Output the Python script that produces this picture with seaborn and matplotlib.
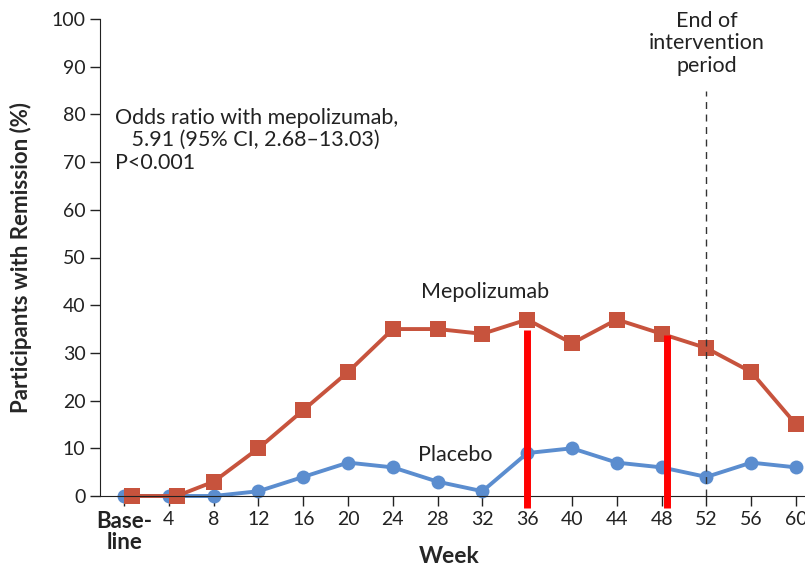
import numpy as np
import pandas as pd
import matplotlib.pyplot as plt
import seaborn as sns

# values
weeks = [0, 4, 8, 12, 16, 20, 24, 28, 32, 36, 40, 44, 48, 52, 56, 60]
tick_labels = ["Base-\nline", "4", "8", "12", "16", "20", "24", "28", "32",
               "36", "40", "44", "48", "52", "56", "60"]
mepolizumab = [0, 0, 3, 10, 18, 26, 35, 35, 34, 37, 32, 37, 34, 31, 26, 15]
placebo = [0, 0, 0, 1, 4, 7, 6, 3, 1, 9, 10, 7, 6, 4, 7, 6]
red_bar_weeks = [36, 48.5]
red_bar_tops = [34.7, 33.8]
end_week = 52

sns.set_style("ticks")
plt.rcParams['font.family'] = ['Lato', 'DejaVu Sans']

red = "#c7533d"
blue = "#5b8dcf"
ink = "#222222"

# small shift so overlapping zero points stay visible
shift = np.where(np.array(mepolizumab) == np.array(placebo), 0.7, 0.0)
df = pd.DataFrame({
    "week": list(weeks) + list(np.array(weeks) + shift),
    "value": placebo + mepolizumab,
    "group": ["Placebo"] * len(weeks) + ["Mepolizumab"] * len(weeks),
})

fig = plt.figure(figsize=(8.05, 5.7), dpi=100)
ax = fig.add_axes([100 / 805, 74 / 570, 705 / 805, 477 / 570])

sns.lineplot(data=df[df.group == "Placebo"], x="week", y="value", ax=ax,
             color=blue, linewidth=2.8, marker="o", markersize=10,
             markeredgewidth=0, clip_on=False)
sns.lineplot(data=df[df.group == "Mepolizumab"], x="week", y="value", ax=ax,
             color=red, linewidth=2.8, marker="s", markersize=11.5,
             markeredgewidth=0, clip_on=False)

# end of intervention
ax.vlines(end_week, 0, 85, color="#333333", linestyle=(0, (5, 4)), linewidth=1)
ax.text(end_week, 94.9, "End of\nintervention\nperiod", ha="center", va="center",
        fontsize=15.5, color=ink, linespacing=1.15)

# red highlight bars
ax.vlines(red_bar_weeks, -2.6, red_bar_tops, color="#ff0000", linewidth=5,
          clip_on=False, zorder=5)

ax.text(32.2, 42.8, "Mepolizumab", ha="center", va="center", fontsize=15.5,
        color=ink)
ax.text(29.6, 8.6, "Placebo", ha="center", va="center", fontsize=15.5,
        color=ink)
ax.text(-0.8, 74.6, "Odds ratio with mepolizumab,\n   5.91 (95% CI, 2.68\u201313.03)\nP<0.001",
        ha="left", va="center", fontsize=15.5, color=ink, linespacing=1.15)

ax.set_xlim(-2.15, 60.8)
ax.set_ylim(0, 100)
ax.set_xticks(weeks)
ax.set_xticklabels(tick_labels)
ax.tick_params(axis="both", labelsize=14, length=7, width=1, colors=ink)
base = ax.get_xticklabels()[0]
base.set_fontweight("bold")
base.set_fontsize(16)
base.set_linespacing(1.0)
ax.set_yticks(range(0, 101, 10))
ax.set_xlabel("Week", fontsize=16.5, fontweight="bold")
ax.xaxis.set_label_coords(0.495, -0.105)
ax.set_ylabel("Participants with Remission (%)", fontsize=16, fontweight="bold")
ax.yaxis.set_label_coords(-0.096, 0.5)
sns.despine(ax=ax)
for s in ("left", "bottom"):
    ax.spines[s].set_color(ink)

fig.savefig("out.png", dpi=100)
